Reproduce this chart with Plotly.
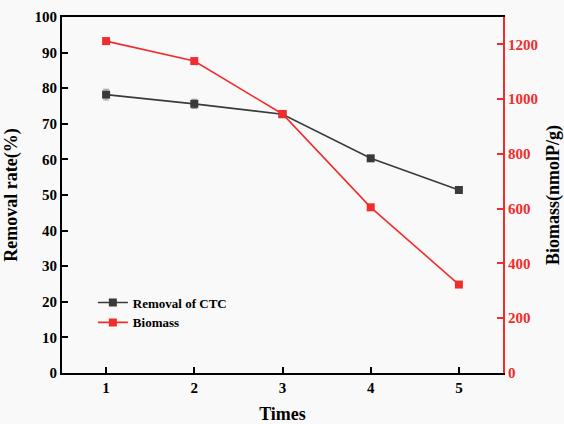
import plotly.graph_objects as go

times = [1, 2, 3, 4, 5]
removal = [78.2, 75.6, 72.7, 60.3, 51.4]
removal_err = [1.5, 1.3, 0.6, 0.7, 0.6]
biomass = [1212, 1139, 946, 605, 323]
left_ticks = list(range(0, 101, 10))
right_ticks = [0, 200, 400, 600, 800, 1000, 1200]

FONT = "Liberation Serif"
RED = "#f02c2c"
DARK = "#3a3a3a"

def b(v):
    return "<b>%s</b>" % v

fig = go.Figure()
fig.add_trace(go.Scatter(
    x=times, y=removal, name=b("Removal of CTC"), mode="lines+markers",
    line=dict(color=DARK, width=1.6),
    marker=dict(symbol="square", size=8, color=DARK),
    error_y=dict(type="data", array=removal_err, color="#999999", thickness=1, width=3),
))
fig.add_trace(go.Scatter(
    x=times, y=biomass, name=b("Biomass"), mode="lines+markers", yaxis="y2",
    line=dict(color=RED, width=1.6),
    marker=dict(symbol="square", size=8, color=RED),
))

tf = dict(family=FONT, size=15, color="black")
ttl = dict(family=FONT, size=18, color="black")

fig.update_layout(
    width=564, height=424,
    margin=dict(l=62, r=61, t=17, b=51),
    paper_bgcolor="#f9f9f9", plot_bgcolor="#f9f9f9",
    font=dict(family=FONT, color="black", size=14),
    showlegend=True,
    legend=dict(x=0.07, y=0.24, xanchor="left", yanchor="top",
                bgcolor="rgba(0,0,0,0)",
                font=dict(family=FONT, size=13, color="black"),
                tracegroupgap=0, itemwidth=30),
    xaxis=dict(range=[0.5, 5.5], tickvals=times, ticktext=[b(t) for t in times],
               automargin=False,
               showgrid=False, zeroline=False, showline=True, linecolor="black", linewidth=2,
               mirror=True, ticks="inside", ticklen=6, tickwidth=2, tickcolor="black",
               tickfont=tf,
               title=dict(text=b("Times"), font=ttl, standoff=14)),
    yaxis=dict(range=[0, 100], tickvals=left_ticks, ticktext=[b(t) for t in left_ticks],
               showgrid=False, zeroline=False, automargin=False,
               showline=True, linecolor="black", linewidth=2,
               ticks="inside", ticklen=6, tickwidth=2, tickcolor="black",
               tickfont=tf,
               title=dict(text=b("Removal rate(%)"), font=ttl, standoff=12)),
    yaxis2=dict(range=[0, 1300], tickvals=right_ticks, ticktext=[b(t) for t in right_ticks],
                overlaying="y", side="right", showgrid=False, zeroline=False, automargin=False,
                showline=True, linecolor=RED, linewidth=2,
                ticks="inside", ticklen=6, tickwidth=2, tickcolor=RED,
                tickfont=dict(family=FONT, size=15, color=RED),
                title=dict(text=b("Biomass(nmolP/g)"), font=ttl, standoff=12)),
)

fig.write_html("out.html")
